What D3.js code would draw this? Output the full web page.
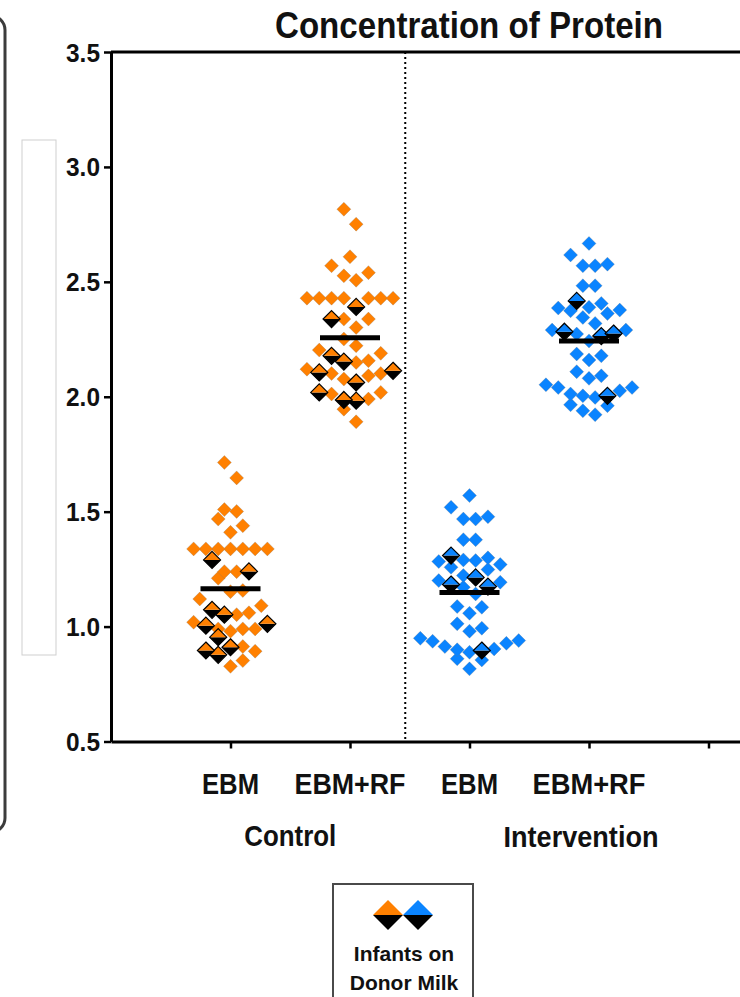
<!DOCTYPE html>
<html>
<head>
<meta charset="utf-8">
<script src="https://cdn.jsdelivr.net/npm/d3@7"></script>
<style>
  html, body { margin: 0; padding: 0; background: #fff; }
  svg { display: block; }
  text { font-family: "Liberation Sans", Arial, sans-serif; font-weight: bold; fill: #111; }
</style>
</head>
<body>
<svg id="chart" width="740" height="997"></svg>
<script>
// ---------------- data ----------------
const chartTitle = "Concentration of Protein";
const yTicks = [0.5, 1.0, 1.5, 2.0, 2.5, 3.0, 3.5];
const slots = ["C-EBM", "C-EBM+RF", "I-EBM", "I-EBM+RF", "extra"];
const categories = ["EBM", "EBM+RF", "EBM", "EBM+RF", ""];
const groupLabels = ["Control", "Intervention"];
const medians = [1.165, 2.257, 1.148, 2.243];
const legendLines = ["Infants on", "Donor Milk"];

const controlEBM = [1.714, 1.647, 1.509, 1.501, 1.468, 1.439, 1.410, 1.338, 1.338, 1.338, 1.338, 1.338, 1.338, 1.338,
  1.239, 1.239, 1.210, 1.157, 1.152, 1.120, 1.091, 1.060, 1.052, 1.019, 0.990, 0.990, 0.990, 0.980, 0.913, 0.893, 0.852, 0.827];
const controlEBMDonor = [1.290, 1.240, 1.073, 1.052, 1.012, 1.004, 0.954, 0.910, 0.896, 0.877];

const controlRF = [2.816, 2.751, 2.609, 2.570, 2.540, 2.526, 2.507, 2.429, 2.429, 2.429, 2.429, 2.429, 2.429, 2.429,
  2.338, 2.338, 2.301, 2.251, 2.222, 2.203, 2.189, 2.157, 2.149, 2.120, 2.101, 2.101, 2.091, 2.077, 2.019, 2.012, 1.990, 1.946, 1.891];
const controlRFDonor = [2.391, 2.338, 2.178, 2.153, 2.113, 2.106, 2.062, 2.019, 1.986, 1.983];

const interventionEBM = [1.570, 1.519, 1.478, 1.468, 1.468, 1.378, 1.378, 1.299, 1.290, 1.287, 1.283, 1.270, 1.258, 1.248,
  1.222, 1.200, 1.193, 1.171, 1.142, 1.087, 1.084, 1.058, 1.012, 0.993, 0.980, 0.949, 0.939, 0.936, 0.927, 0.913, 0.903, 0.899,
  0.888, 0.860, 0.855, 0.816];
const interventionEBMDonor = [1.309, 1.214, 1.183, 1.174, 0.896];

const interventionRF = [2.667, 2.617, 2.577, 2.570, 2.570, 2.483, 2.483, 2.406, 2.389, 2.386, 2.377, 2.374, 2.362, 2.345,
  2.319, 2.290, 2.290, 2.273, 2.243, 2.186, 2.178, 2.160, 2.109, 2.091, 2.080, 2.052, 2.040, 2.040, 2.026, 2.012, 2.004, 1.997,
  1.965, 1.961, 1.939, 1.922];
const interventionRFDonor = [2.417, 2.283, 2.275, 2.264, 2.004];

const groupColors = ["#FF8000", "#FF8000", "#0A84FF", "#0A84FF"];

// ---------------- layout ----------------
const svg = d3.select("#chart");
const W = 740, H = 997;

const y = d3.scaleLinear().domain([0.5, 3.5]).range([741.5, 52]);
const x = d3.scalePoint().domain(slots).range([111, 828]).padding(1);

// left decorative panel
svg.append("rect")
  .attr("x", -40).attr("y", 16).attr("width", 45).attr("height", 816)
  .attr("rx", 14).attr("ry", 14)
  .attr("fill", "none").attr("stroke", "#3c3c3c").attr("stroke-width", 3);
svg.append("rect")
  .attr("x", 22).attr("y", 140).attr("width", 34).attr("height", 515)
  .attr("fill", "#fff").attr("stroke", "#cfcfcf").attr("stroke-width", 1);

// title
svg.append("text")
  .attr("x", 469).attr("y", 38)
  .attr("text-anchor", "middle")
  .attr("font-size", 36)
  .attr("textLength", 388).attr("lengthAdjust", "spacingAndGlyphs")
  .text(chartTitle);

// top frame line
svg.append("line")
  .attr("x1", x.range()[0]).attr("x2", W)
  .attr("y1", y(3.5)).attr("y2", y(3.5))
  .attr("stroke", "#000").attr("stroke-width", 3);

// y axis
const yAxis = svg.append("g")
  .attr("transform", `translate(${x.range()[0]},0)`)
  .call(d3.axisLeft(y).tickValues(yTicks).tickFormat(d3.format(".1f")).tickSize(7).tickSizeOuter(0).tickPadding(4));
yAxis.select(".domain").attr("stroke", "#000").attr("stroke-width", 3);
yAxis.selectAll(".tick line").attr("stroke", "#000").attr("stroke-width", 2.5);
yAxis.selectAll(".tick text")
  .attr("font-size", 25).attr("font-family", "Liberation Sans, Arial, sans-serif")
  .attr("font-weight", "bold").attr("fill", "#111").attr("dy", "0.36em")
  .attr("textLength", 34).attr("lengthAdjust", "spacingAndGlyphs");

// x axis
const xAxis = svg.append("g")
  .attr("transform", `translate(0,${y(0.5)})`)
  .call(d3.axisBottom(x).tickFormat("").tickSize(7).tickSizeOuter(0));
xAxis.select(".domain").attr("stroke", "#000").attr("stroke-width", 3);
xAxis.selectAll(".tick line").attr("stroke", "#000").attr("stroke-width", 2.5);

// category labels
const catWidths = [57, 111, 57, 113];
slots.slice(0, 4).forEach((s, i) => {
  svg.append("text")
    .attr("x", x(s)).attr("y", 794)
    .attr("text-anchor", "middle")
    .attr("font-size", 29)
    .attr("textLength", catWidths[i]).attr("lengthAdjust", "spacingAndGlyphs")
    .text(categories[i]);
});
svg.append("text")
  .attr("x", (x(slots[0]) + x(slots[1])) / 2).attr("y", 846)
  .attr("text-anchor", "middle").attr("font-size", 30)
  .attr("textLength", 92).attr("lengthAdjust", "spacingAndGlyphs")
  .text(groupLabels[0]);
svg.append("text")
  .attr("x", x(slots[3]) - 8).attr("y", 847)
  .attr("text-anchor", "middle").attr("font-size", 30)
  .attr("textLength", 155).attr("lengthAdjust", "spacingAndGlyphs")
  .text(groupLabels[1]);

// dotted divider
const divX = (x(slots[1]) + x(slots[2])) / 2 - 4.5;
svg.append("line")
  .attr("x1", divX).attr("x2", divX)
  .attr("y1", y(3.5)).attr("y2", y(0.5))
  .attr("stroke", "#000").attr("stroke-width", 2).attr("stroke-dasharray", "2,3");

// ---------------- scatter-dot layout (row binning, center-out) ----------------
function binLayout(values, donor, cx) {
  const pts = values.map(v => ({ v, hl: false })).concat(donor.map(v => ({ v, hl: true })));
  pts.sort((a, b) => a.v - b.v);
  const binH = 0.07, step = 12.3;
  let i = 0;
  while (i < pts.length) {
    const start = pts[i].v;
    const bin = [];
    while (i < pts.length && pts[i].v < start + binH - 1e-9) { bin.push(pts[i]); i++; }
    const n = bin.length;
    bin.forEach((p, j) => {
      let off;
      if (n % 2) off = j === 0 ? 0 : Math.ceil(j / 2) * (j % 2 ? 1 : -1);
      else off = (Math.floor(j / 2) + 0.5) * (j % 2 ? -1 : 1);
      p.x = cx + off * step;
      p.y = y(p.v);
    });
  }
  return pts;
}

const groups = [
  [controlEBM, controlEBMDonor],
  [controlRF, controlRFDonor],
  [interventionEBM, interventionEBMDonor],
  [interventionRF, interventionRFDonor]
];

const diamond = r => `M0,${-r}L${r},0L0,${r}L${-r},0Z`;
const topHalf = r => `M${-r},0L0,${-r}L${r},0Z`;
const bottomHalf = r => `M${-r},0L0,${r}L${r},0Z`;

groups.forEach((g, i) => {
  const cx = x(slots[i]);
  const pts = binLayout(g[0], g[1], cx);
  const col = groupColors[i];
  const gg = svg.append("g");
  gg.selectAll("path.pt").data(pts.filter(p => !p.hl)).join("path")
    .attr("class", "pt")
    .attr("transform", p => `translate(${p.x},${p.y})`)
    .attr("d", diamond(7))
    .attr("fill", col).attr("stroke", "rgba(120,120,120,0.45)").attr("stroke-width", 0.6);
  // median
  gg.append("line")
    .attr("x1", cx - 30).attr("x2", cx + 30)
    .attr("y1", y(medians[i])).attr("y2", y(medians[i]))
    .attr("stroke", "#000").attr("stroke-width", 5);
  const hl = gg.selectAll("g.hl").data(pts.filter(p => p.hl)).join("g")
    .attr("class", "hl")
    .attr("transform", p => `translate(${p.x},${p.y})`);
  hl.append("path").attr("d", bottomHalf(8.5)).attr("fill", "#000");
  hl.append("path").attr("d", topHalf(8.5)).attr("fill", col);
  hl.append("path").attr("d", diamond(8.5)).attr("fill", "none").attr("stroke", "#000").attr("stroke-width", 1.2);
});

// ---------------- legend ----------------
const lg = svg.append("g");
lg.append("rect")
  .attr("x", 333).attr("y", 884).attr("width", 140).attr("height", 140)
  .attr("fill", "#fff").attr("stroke", "#4a4a4a").attr("stroke-width", 2);
[["#FF8000", 388], ["#0A84FF", 418]].forEach(([c, cx]) => {
  const d = lg.append("g").attr("transform", `translate(${cx},915)`);
  d.append("path").attr("d", bottomHalf(15)).attr("fill", "#000");
  d.append("path").attr("d", topHalf(15)).attr("fill", c);
});
legendLines.forEach((t, i) => {
  lg.append("text")
    .attr("x", 404).attr("y", 961 + i * 29)
    .attr("text-anchor", "middle")
    .attr("font-family", "Lato, 'Open Sans', sans-serif")
    .attr("font-size", 21)
    .attr("fill", "#222")
    .text(t);
});
</script>
</body>
</html>
